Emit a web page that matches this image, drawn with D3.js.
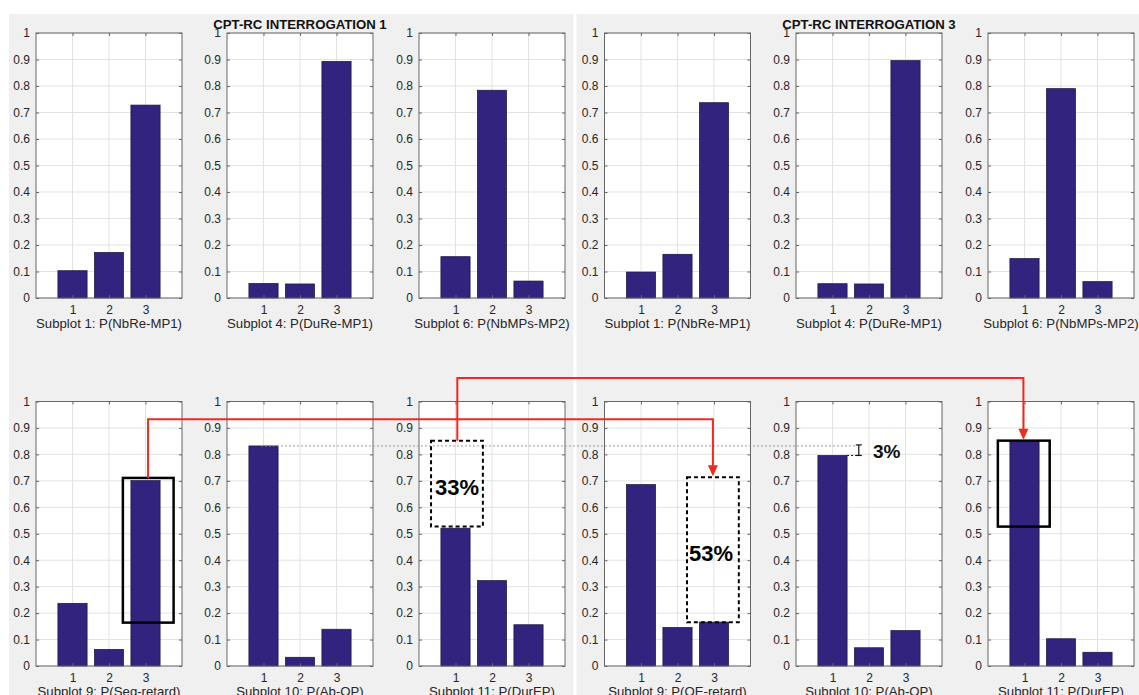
<!DOCTYPE html>
<html><head><meta charset="utf-8">
<script src="https://cdn.jsdelivr.net/npm/d3@7"></script>
<style>
body{margin:0;background:#fff}
svg{display:block}
text{font-family:"Liberation Sans",Arial,Helvetica,sans-serif}
</style>
</head><body>
<svg id="chart" width="1139" height="695"></svg>
<script>
// ---------- data ----------
const categories = [1, 2, 3];
const xTickLabels = ["1", "2", "3"];
const yTickValues = [0, 0.1, 0.2, 0.3, 0.4, 0.5, 0.6, 0.7, 0.8, 0.9, 1];
const yTickLabels = ["0", "0.1", "0.2", "0.3", "0.4", "0.5", "0.6", "0.7", "0.8", "0.9", "1"];
const figureTitles = ["CPT-RC INTERROGATION 1", "CPT-RC INTERROGATION 3"];

const labelsTop = ["Subplot 1: P(NbRe-MP1)", "Subplot 4: P(DuRe-MP1)", "Subplot 6: P(NbMPs-MP2)"];
const labelsBottom1 = ["Subplot 9: P(Seg-retard)", "Subplot 10: P(Ab-OP)", "Subplot 11: P(DurEP)"];
const labelsBottom3 = ["Subplot 9: P(OE-retard)", "Subplot 10: P(Ab-OP)", "Subplot 11: P(DurEP)"];

// Interrogation 1
const i1NbReMP1  = [0.103, 0.172, 0.728];
const i1DuReMP1  = [0.055, 0.053, 0.893];
const i1NbMPsMP2 = [0.156, 0.784, 0.064];
const i1SegRetard = [0.237, 0.063, 0.701];
const i1AbOP     = [0.832, 0.033, 0.139];
const i1DurEP    = [0.521, 0.323, 0.156];
// Interrogation 3
const i3NbReMP1  = [0.098, 0.165, 0.737];
const i3DuReMP1  = [0.054, 0.053, 0.896];
const i3NbMPsMP2 = [0.149, 0.790, 0.062];
const i3OERetard = [0.686, 0.146, 0.166];
const i3AbOP     = [0.796, 0.069, 0.134];
const i3DurEP    = [0.848, 0.103, 0.052];

// annotation boxes, in data units of their panel [row, col, x0, x1, y0, y1]
const solidBoxes  = [[1, 0, 2.38, 3.77, 0.164, 0.711], [1, 5, 0.27, 1.69, 0.527, 0.852]];
const dashedBoxes = [[1, 2, 0.33, 1.75, 0.527, 0.852], [1, 3, 2.26, 3.68, 0.165, 0.714]];
const boxTexts = [[1, 2, 1.04, 0.678, "33%"], [1, 3, 2.92, 0.428, "53%"]];

// ---------- layout ----------
const colLefts = [36, 227, 419, 604.5, 796, 988];
const W = 146;
const rows = [{top: 33, h: 265}, {top: 401.5, h: 264.5}];

const panels = [
  {row: 0, col: 0, values: i1NbReMP1,  label: labelsTop[0]},
  {row: 0, col: 1, values: i1DuReMP1,  label: labelsTop[1]},
  {row: 0, col: 2, values: i1NbMPsMP2, label: labelsTop[2]},
  {row: 0, col: 3, values: i3NbReMP1,  label: labelsTop[0]},
  {row: 0, col: 4, values: i3DuReMP1,  label: labelsTop[1]},
  {row: 0, col: 5, values: i3NbMPsMP2, label: labelsTop[2]},
  {row: 1, col: 0, values: i1SegRetard, label: labelsBottom1[0]},
  {row: 1, col: 1, values: i1AbOP,      label: labelsBottom1[1]},
  {row: 1, col: 2, values: i1DurEP,     label: labelsBottom1[2]},
  {row: 1, col: 3, values: i3OERetard,  label: labelsBottom3[0]},
  {row: 1, col: 4, values: i3AbOP,      label: labelsBottom3[1]},
  {row: 1, col: 5, values: i3DurEP,     label: labelsBottom3[2]}
];

const BAR = "#32237f";
const GRID = "#e2e2e2";
const AXIS = "#666666";
const TXT = "#262626";
const RED = "#ee2b1c";

const svg = d3.select("#chart");
svg.append("rect").attr("width", 1139).attr("height", 695).attr("fill", "#fff");
svg.append("rect").attr("x", 9).attr("y", 14).attr("width", 564.5).attr("height", 681).attr("fill", "#f0f0f0");
svg.append("rect").attr("x", 576.5).attr("y", 14).attr("width", 562.5).attr("height", 681).attr("fill", "#f0f0f0");

const xs = d3.scaleLinear().domain([0, 4]).range([0, W]);
const ysFor = r => d3.scaleLinear().domain([0, 1]).range([rows[r].h, 0]);
const px = (col, v) => colLefts[col] + xs(v);
const py = (row, v) => rows[row].top + ysFor(row)(v);

panels.forEach(p => {
  const h = rows[p.row].h;
  const y = ysFor(p.row);
  const g = svg.append("g").attr("transform", `translate(${colLefts[p.col]},${rows[p.row].top})`);
  g.append("rect").attr("width", W).attr("height", h).attr("fill", "#fff");
  // grid
  g.selectAll(".gy").data(yTickValues).join("line")
    .attr("x1", 0).attr("x2", W).attr("y1", d => y(d)).attr("y2", d => y(d))
    .attr("stroke", GRID).attr("stroke-width", 1);
  g.selectAll(".gx").data(categories).join("line")
    .attr("x1", d => xs(d)).attr("x2", d => xs(d)).attr("y1", 0).attr("y2", h)
    .attr("stroke", GRID).attr("stroke-width", 1);
  // bars
  g.selectAll(".bar").data(p.values).join("rect")
    .attr("x", (d, i) => xs(categories[i] - 0.4))
    .attr("width", xs(0.8) - xs(0))
    .attr("y", d => y(d))
    .attr("height", d => h - y(d))
    .attr("fill", BAR).attr("stroke", "#1b1440").attr("stroke-width", 0.7);
  // axes
  const styleAxis = a => {
    a.select(".domain").remove();
    a.selectAll(".tick line").attr("stroke", AXIS);
    a.selectAll("text").attr("fill", TXT).attr("font-size", 12)
      .attr("font-family", '"Liberation Sans",Arial,Helvetica,sans-serif');
  };
  g.append("g").call(d3.axisLeft(y).tickValues(yTickValues).tickFormat((d, i) => yTickLabels[i]).tickSize(-3).tickPadding(6)).call(styleAxis);
  g.append("g").attr("transform", `translate(${W},0)`).call(d3.axisRight(y).tickValues(yTickValues).tickFormat("").tickSize(-3)).call(styleAxis);
  g.append("g").attr("transform", `translate(0,${h})`).call(d3.axisBottom(xs).tickValues(categories).tickFormat((d, i) => xTickLabels[i]).tickSize(-3).tickPadding(7)).call(styleAxis);
  g.append("g").call(d3.axisTop(xs).tickValues(categories).tickFormat("").tickSize(-3)).call(styleAxis);
  g.append("rect").attr("width", W).attr("height", h).attr("fill", "none").attr("stroke", AXIS).attr("stroke-width", 1);
  g.append("text").attr("x", W / 2).attr("y", h + 30).attr("text-anchor", "middle")
    .attr("font-size", 13.2).attr("fill", TXT).text(p.label);
});

// titles
[1, 4].forEach((col, i) => {
  svg.append("text").attr("x", colLefts[col] + W / 2).attr("y", 28.5)
    .attr("text-anchor", "middle").attr("font-weight", "bold").attr("font-size", 13.2)
    .attr("fill", "#111").text(figureTitles[i]);
});

// ---------- annotations ----------
// gray dotted reference line at Ab-OP level of interrogation 1
const refY = py(1, i1AbOP[0]);
svg.append("line").attr("x1", px(1, 0.93)).attr("x2", px(4, 1.62)).attr("y1", refY).attr("y2", refY)
  .attr("stroke", "#9a9a9a").attr("stroke-width", 1).attr("stroke-dasharray", "2,2");
const curY = py(1, i3AbOP[0]);
svg.append("line").attr("x1", px(4, 1.4)).attr("x2", px(4, 1.84)).attr("y1", curY).attr("y2", curY)
  .attr("stroke", "#111").attr("stroke-width", 1).attr("stroke-dasharray", "2,2");
// I-beam
const ibX = px(4, 1.72);
svg.append("line").attr("x1", ibX).attr("x2", ibX).attr("y1", refY - 1).attr("y2", curY).attr("stroke", "#111").attr("stroke-width", 1.2);
[refY - 1, curY].forEach(v => svg.append("line").attr("x1", ibX - 3).attr("x2", ibX + 3).attr("y1", v).attr("y2", v).attr("stroke", "#111").attr("stroke-width", 1.2));
svg.append("text").attr("x", px(4, 2.11)).attr("y", (refY + curY) / 2 + 0.5 + 6.8)
  .attr("font-weight", "bold").attr("font-size", 19).attr("fill", "#111").text("3%");

const boxRect = (b, dashed) => {
  const [r, c, x0, x1, y0, y1] = b;
  svg.append("rect").attr("x", px(c, x0)).attr("y", py(r, y1))
    .attr("width", px(c, x1) - px(c, x0)).attr("height", py(r, y0) - py(r, y1))
    .attr("fill", "none").attr("stroke", "#000").attr("stroke-width", dashed ? 2 : 2.5)
    .attr("stroke-dasharray", dashed ? "4,3" : null);
};
solidBoxes.forEach(b => boxRect(b, false));
dashedBoxes.forEach(b => boxRect(b, true));
boxTexts.forEach(([r, c, xv, yv, t]) => {
  svg.append("text").attr("x", px(c, xv)).attr("y", py(r, yv) + 7.9)
    .attr("text-anchor", "middle").attr("font-weight", "bold").attr("font-size", 22)
    .attr("fill", "#000").text(t);
});

// red connector arrows
const arrow = (pts) => {
  const end = pts[pts.length - 1];
  const p = pts.map(d => [d[0], d[1]]);
  p[p.length - 1] = [end[0], end[1] - 9];
  svg.append("path").attr("d", d3.line()(p)).attr("fill", "none").attr("stroke", RED).attr("stroke-width", 2);
  svg.append("path").attr("d", `M${end[0]},${end[1]} L${end[0] - 5},${end[1] - 11} L${end[0] + 5},${end[1] - 11} Z`).attr("fill", RED);
};
arrow([[px(0, 3.07), py(1, 0.711)], [px(0, 3.07), py(1, 0.933)], [px(3, 2.97), py(1, 0.933)], [px(3, 2.97), py(1, 0.714) - 1]]);
arrow([[px(2, 1.05), py(1, 0.852)], [px(2, 1.05), py(1, 1.089)], [px(5, 0.97), py(1, 1.089)], [px(5, 0.97), py(1, 0.852) - 1]]);
</script>
</body></html>
